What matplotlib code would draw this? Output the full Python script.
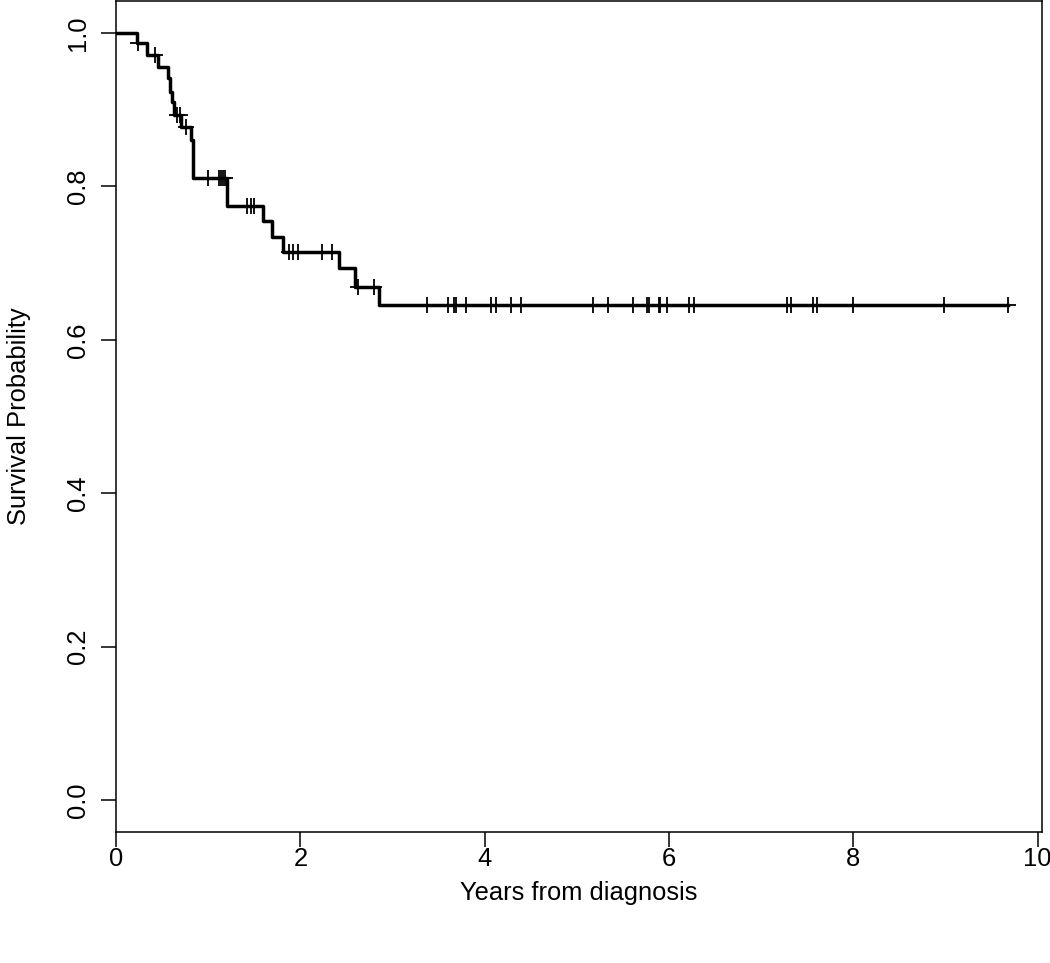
import numpy as np
import matplotlib
matplotlib.use("Agg")
import matplotlib.pyplot as plt

plt.rcParams['font.family'] = ['Liberation Sans', 'DejaVu Sans']

# Kaplan-Meier estimate
event_years = [0.228, 0.34, 0.456, 0.565, 0.59, 0.611, 0.626, 0.71, 0.818, 0.836,
               1.20, 1.60, 1.69, 1.817, 2.42, 2.59, 2.855]
survival = [0.987, 0.971, 0.956, 0.941, 0.923, 0.910, 0.893, 0.878, 0.860, 0.811,
            0.774, 0.755, 0.734, 0.715, 0.693, 0.669, 0.645]
censor_years = [0.235, 0.42, 0.665, 0.69, 0.763, 1.0, 1.115, 1.135, 1.16, 1.18,
                1.426, 1.466, 1.50, 1.88, 1.925, 1.97, 2.23, 2.34, 2.63, 2.80,
                3.38, 3.60, 3.67, 3.685, 3.80, 4.07, 4.12, 4.29, 4.39, 5.175, 5.34,
                5.61, 5.76, 5.78, 5.89, 5.905, 5.98, 6.22, 6.27, 7.28, 7.32, 7.56,
                7.61, 7.995, 8.99, 9.68]
x_ticks = [0, 2, 4, 6, 8, 10]
y_ticks = [0.0, 0.2, 0.4, 0.6, 0.8, 1.0]

fig = plt.figure(figsize=(10.5, 9.63), dpi=100)
ax = fig.add_axes([0.1105, 0.136, 0.882, 0.863])

xs = [0] + event_years + [max(censor_years)]
ys = [1.0] + survival + [survival[-1]]
ax.step(xs, ys, where='post', color='black', lw=2.5)

# censor marks sit on the curve
steps_x = np.array([0] + event_years)
steps_y = np.array([1.0] + survival)
idx = np.searchsorted(steps_x, censor_years, side='right') - 1
ax.plot(censor_years, steps_y[idx], ls='none', marker='+', ms=12,
        mew=1.3, color='black')

ax.set_xlim(0, 10.05)
ax.set_ylim(-0.0417, 1.0417)
ax.set_xticks(x_ticks)
ax.set_xticklabels([str(t) for t in x_ticks])
ax.set_yticks(y_ticks)
ax.set_yticklabels([f"{t:.1f}" for t in y_ticks], rotation=90, va='center')
ax.tick_params(length=11, width=1.1, labelsize=18.4, direction='out')
ax.tick_params(axis='x', pad=0)
ax.tick_params(axis='y', pad=8)
for s in ax.spines.values():
    s.set_linewidth(1.1)

ax.set_xlabel("Years from diagnosis", fontsize=18.4, labelpad=7)
ax.set_ylabel("Survival Probability", fontsize=18.4, labelpad=25)

fig.savefig("out.png", dpi=100)
